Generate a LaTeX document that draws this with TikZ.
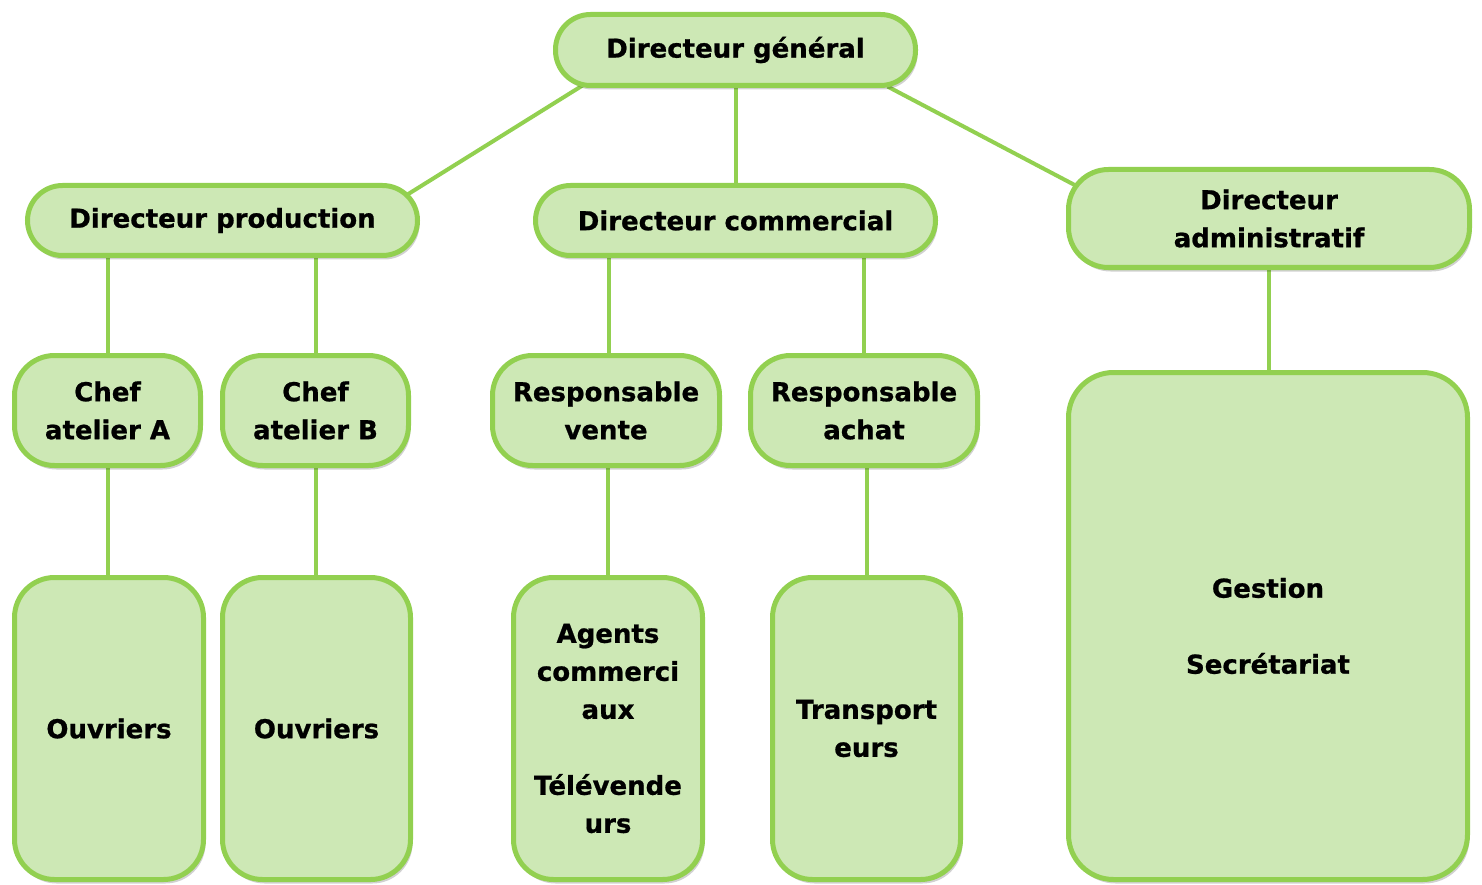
\documentclass[tikz,border=0pt]{standalone}
\usepackage{fontspec}
\setmainfont{DejaVu Sans}
\newfontfamily\boxfont[FakeBold=0.8]{DejaVu Sans Bold}
\usetikzlibrary{shadows,backgrounds,calc}
\definecolor{boxfill}{HTML}{CDE8B5}
\definecolor{boxline}{HTML}{92D050}
\tikzset{
  orgbox/.style={draw=boxline, line width=5pt, fill=boxfill, rounded corners=#1,
    inner sep=0pt, align=center, font=\fontsize{26}{38}\selectfont\boxfont,
    drop shadow={shadow xshift=2pt, shadow yshift=-4pt, opacity=0.18, fill=black}},
  orgbox/.default=35pt,
  conn/.style={draw=boxline, line width=4pt}
}
\begin{document}
\begin{tikzpicture}[x=1pt,y=1pt]
\useasboundingbox (0,0) rectangle (1482,-885);
\node[orgbox, minimum width=360pt, minimum height=71pt] (DG) at (735.5,-50) {Directeur général};
\node[orgbox, minimum width=390pt, minimum height=70pt] (DP) at (222.5,-220.5) {Directeur production};
\node[orgbox, minimum width=400pt, minimum height=70pt] (DC) at (735.5,-220.5) {Directeur commercial};
\node[orgbox=40pt, minimum width=401pt, minimum height=98pt] (DA) at (1269,-218.5) {Directeur\\administratif};
\node[orgbox=40pt, minimum width=186pt, minimum height=110pt] (ChefA) at (107.5,-410.5) {Chef\\atelier A};
\node[orgbox=40pt, minimum width=186pt, minimum height=110pt] (ChefB) at (315.5,-410.5) {Chef\\atelier B};
\node[orgbox=40pt, minimum width=227pt, minimum height=110pt] (vente) at (606,-410.5) {Responsable\\vente};
\node[orgbox=40pt, minimum width=227pt, minimum height=110pt] (achat) at (864,-410.5) {Responsable\\achat};
\node[orgbox=40pt, minimum width=189pt, minimum height=302pt] (OuvA) at (109,-728.5) {Ouvriers};
\node[orgbox=40pt, minimum width=188pt, minimum height=302pt] (OuvB) at (316.5,-728.5) {Ouvriers};
\node[orgbox=40pt, minimum width=189pt, minimum height=302pt] (Agents) at (608,-728.5) {Agents\\commerci\\aux\\[38pt]Télévende\\urs};
\node[orgbox=40pt, minimum width=188pt, minimum height=302pt] (Transp) at (866.5,-728.5) {Transport\\eurs};
\node[orgbox=45pt, minimum width=399pt, minimum height=507pt] (Gestion) at (1268,-626) {Gestion\\[38pt]Secrétariat};
\begin{scope}[on background layer]
\draw[conn] ([shift={(29.5,2.5)}]DG.south west) -- ([shift={(-12.5,-11.5)}]DP.north east);
\draw[conn] ([shift={(-30.5,1.5)}]DG.south east) -- ([shift={(11.5,-19.5)}]DA.north west);
\draw[conn] (DG.south) -- (DC.north);
\draw[conn] (ChefA.north) -- (ChefA.north |- DP.south);
\draw[conn] (ChefB.north) -- (ChefB.north |- DP.south);
\draw[conn] ([xshift=3pt]vente.north) -- ([xshift=3pt]vente.north |- DC.south);
\draw[conn] (achat.north) -- (achat.north |- DC.south);
\draw[conn] (DA.south) -- (DA.south |- Gestion.north);
\draw[conn] (ChefA.south) -- (ChefA.south |- OuvA.north);
\draw[conn] (ChefB.south) -- (ChefB.south |- OuvB.north);
\draw[conn] (Agents.north) -- (Agents.north |- vente.south);
\draw[conn] (Transp.north) -- (Transp.north |- achat.south);
\end{scope}
\end{tikzpicture}
\end{document}
